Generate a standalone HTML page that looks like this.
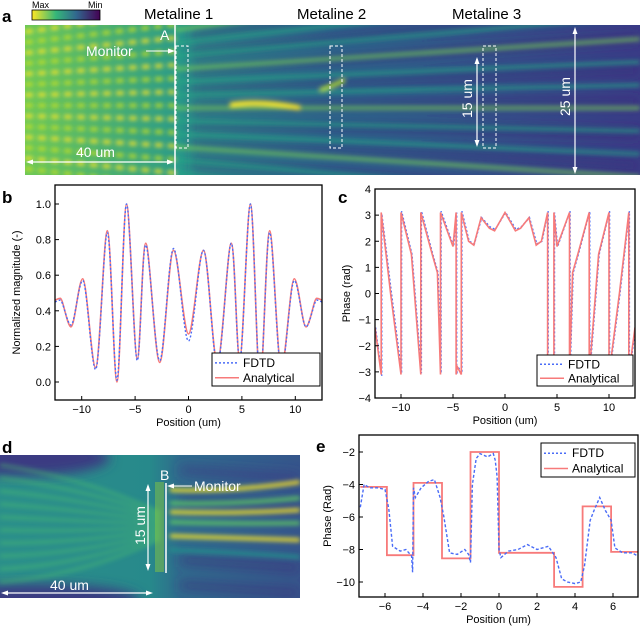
<!DOCTYPE html>
<html><head><meta charset="utf-8"><style>
body{margin:0;background:#fff;}
svg{display:block;font-family:"Liberation Sans",sans-serif;}
</style></head><body>
<svg id="fig" width="640" height="632" viewBox="0 0 640 632">
<defs>
<filter id="blur3"><feGaussianBlur stdDeviation="2.5"/></filter>
<filter id="blur6"><feGaussianBlur stdDeviation="6"/></filter>
<linearGradient id="cbar" x1="0" x2="1"><stop offset="0" stop-color="#fde725"/><stop offset="0.35" stop-color="#35b779"/><stop offset="0.65" stop-color="#31688e"/><stop offset="1" stop-color="#440154"/></linearGradient>
<linearGradient id="fadeA" x1="0" x2="1"><stop offset="0" stop-color="#6cc85a"/><stop offset="0.25" stop-color="#2a9a8a"/><stop offset="0.5" stop-color="#2b6a8c"/><stop offset="1" stop-color="#3a3c86"/></linearGradient>
<linearGradient id="fadeD" x1="0" x2="1"><stop offset="0" stop-color="#2b8f8a"/><stop offset="0.5" stop-color="#27898b"/><stop offset="0.6" stop-color="#2f6b8d"/><stop offset="1" stop-color="#35558b"/></linearGradient>
<clipPath id="clipA"><rect x="25" y="25" width="615" height="150"/></clipPath>
<clipPath id="clipD"><rect x="0" y="455" width="300" height="143"/></clipPath>
<clipPath id="clipB"><rect x="55" y="185" width="267" height="215"/></clipPath>
<clipPath id="clipC"><rect x="375" y="189" width="260" height="209"/></clipPath>
<clipPath id="clipE"><rect x="359" y="435" width="279" height="162"/></clipPath>
</defs>

<text x="2" y="22" font-size="17" font-weight="bold">a</text>
<rect x="32" y="10" width="68" height="10" fill="url(#cbar)" stroke="#000" stroke-width="0.8"/>
<text x="32" y="8" font-size="9">Max</text>
<text x="88" y="8" font-size="9">Min</text>
<text x="144" y="19" font-size="15">Metaline 1</text>
<text x="297" y="19" font-size="15">Metaline 2</text>
<text x="452" y="19" font-size="15">Metaline 3</text>
<g clip-path="url(#clipA)">
<rect x="25" y="25" width="615" height="150" fill="url(#fadeA)"/>
<g id="darkA" filter="url(#blur6)"></g>
<g id="streaksA" filter="url(#blur3)"></g>
</g>
<g fill="none" stroke="#fff">
<line x1="175" y1="25" x2="175" y2="175" stroke-width="1.5"/>
<rect x="176" y="46" width="12" height="102" stroke-dasharray="3,2" stroke-width="1"/>
<rect x="330" y="46" width="12" height="102" stroke-dasharray="3,2" stroke-width="1"/>
<rect x="483" y="46" width="13" height="102" stroke-dasharray="3,2" stroke-width="1"/>
<line x1="146" y1="51" x2="172" y2="51" stroke-width="1"/>
<line x1="28" y1="162" x2="172" y2="162" stroke-width="1.2"/>
<line x1="477" y1="59" x2="477" y2="145" stroke-width="1.2"/>
<line x1="575" y1="30" x2="575" y2="172" stroke-width="1.2"/>
</g>
<g fill="#fff">
<polygon points="175,51 168,48.5 168,53.5"/>
<polygon points="26,162 33,159.5 33,164.5"/><polygon points="174,162 167,159.5 167,164.5"/>
<polygon points="477,57 474.5,64 479.5,64"/><polygon points="477,147 474.5,140 479.5,140"/>
<polygon points="575,27 572.5,34 577.5,34"/><polygon points="575,174 572.5,167 577.5,167"/>
</g>
<text x="160" y="40" font-size="14" fill="#fff">A</text>
<text x="86" y="56" font-size="14" fill="#fff">Monitor</text>
<text x="76" y="157" font-size="14" fill="#fff">40 um</text>
<text x="0" y="0" font-size="14" fill="#fff" transform="translate(472,118) rotate(-90)">15 um</text>
<text x="0" y="0" font-size="14" fill="#fff" transform="translate(570,116) rotate(-90)">25 um</text>

<text x="2" y="203" font-size="17" font-weight="bold">b</text>
<g id="plotB"></g>

<text x="338" y="203" font-size="17" font-weight="bold">c</text>
<g id="plotC"></g>

<text x="2" y="453" font-size="17" font-weight="bold">d</text>
<g clip-path="url(#clipD)">
<rect x="0" y="455" width="300" height="143" fill="url(#fadeD)"/>
<g id="darkD" filter="url(#blur6)"></g>
<g id="streaksD" filter="url(#blur3)"></g>
</g>
<g>
<rect x="155" y="482" width="9" height="90" fill="#8fcf3a" opacity="0.45"/>
<line x1="166" y1="483" x2="166" y2="573" stroke="#fff" stroke-width="1.5"/>
<line x1="148" y1="487" x2="148" y2="568" stroke="#fff" stroke-width="1.2"/>
<polygon points="148,484 145.5,491 150.5,491" fill="#fff"/><polygon points="148,571 145.5,564 150.5,564" fill="#fff"/>
<line x1="170" y1="486" x2="192" y2="486" stroke="#fff" stroke-width="1"/>
<polygon points="167,486 174,483.5 174,488.5" fill="#fff"/>
<line x1="3" y1="593" x2="150" y2="593" stroke="#fff" stroke-width="1.2"/>
<polygon points="1,593 8,590.5 8,595.5" fill="#fff"/><polygon points="153,593 146,590.5 146,595.5" fill="#fff"/>
</g>
<text x="160" y="480" font-size="14" fill="#fff">B</text>
<text x="194" y="491" font-size="14" fill="#fff">Monitor</text>
<text x="50" y="590" font-size="14" fill="#fff">40 um</text>
<text x="0" y="0" font-size="14" fill="#fff" transform="translate(145,545) rotate(-90)">15 um</text>

<text x="316" y="452" font-size="17" font-weight="bold">e</text>
<g id="plotE"></g>
</svg>
<script>
const bX = [-12.5,-12,-11,-9.9,-8.7,-7.6,-6.7,-5.8,-4.8,-4,-2.7,-1.4,0,1.4,2.7,4,4.8,5.8,6.7,7.6,8.7,9.9,11,12,12.5];
const bAnalytical = [0.46,0.47,0.31,0.58,0.08,0.85,0.0,1.0,0.13,0.78,0.11,0.74,0.27,0.74,0.11,0.78,0.13,1.0,0.0,0.85,0.08,0.58,0.31,0.47,0.46];
const bFDTD = [0.45,0.46,0.32,0.57,0.07,0.84,0.01,1.0,0.12,0.77,0.12,0.75,0.23,0.74,0.10,0.78,0.12,1.0,0.01,0.84,0.07,0.57,0.31,0.46,0.45];
const bYTicks = [0,0.2,0.4,0.6,0.8,1.0];
const bYLabels = ["0.0","0.2","0.4","0.6","0.8","1.0"];
const bXTicks = [-10,-5,0,5,10];
const cX = [-12.5,-11.9,-11.9,-11,-10,-10,-9,-8.1,-8.1,-7,-6.5,-6.2,-6.2,-5,-4.7,-4.7,-4.6,-4.2,-4.2,-3.5,-3,-2.3,-1.5,-1,0,1,1.5,2.3,3,3.5,4.1,4.1,4.6,4.7,4.7,5,6.2,6.2,6.5,7,8.1,8.1,9,10,10,11,11.9,11.9,12.5];
const cPhase = [-1.3,-3.1,3.1,0,-3.1,3.1,1.5,-3.1,3.1,1.5,0.8,-3.1,3.1,1.8,3.1,-3.1,-2.8,-3.1,3.1,2.0,1.85,2.9,2.5,2.4,3.1,2.4,2.5,2.9,1.85,2.0,3.1,-3.1,-2.8,-3.1,3.1,1.8,3.1,-3.1,0.8,1.5,3.1,-3.1,1.5,3.1,-3.1,0,3.1,-3.1,-1.3];
const cFDTDShift = [0,-0.05,-0.05,0.1,0.05,0.05,0,0.05,0.05,0,0,0.05,0.05,0,0,0,0,0.05,0.05,0,0.05,0,0.05,0.05,0,0.05,0.05,0,0.05,0,0.05,0.05,0,0,0,0,0.05,0.05,0,0,0.05,0.05,0,0.05,0.05,0,0.05,0.05,0];
const cYTicks = [-4,-3,-2,-1,0,1,2,3,4];
const cXTicks = [-10,-5,0,5,10];
const eStepX = [-7.3,-5.9,-5.9,-4.5,-4.5,-3,-3,-1.5,-1.5,0,0,2.9,2.9,4.4,4.4,5.9,5.9,7.3];
const eStepY = [-4.15,-4.15,-8.35,-8.35,-3.9,-3.9,-8.55,-8.55,-2.0,-2.0,-8.2,-8.2,-10.3,-10.3,-5.35,-5.35,-8.15,-8.15];
const eFX = [-7.3,-7.1,-6.8,-6.4,-6.0,-5.8,-5.6,-5.2,-4.9,-4.6,-4.55,-4.5,-4.4,-4.1,-3.7,-3.4,-3.1,-2.9,-2.6,-2.2,-1.8,-1.6,-1.5,-1.4,-1.2,-1.0,-0.6,-0.3,-0.2,-0.1,0,0.1,0.5,1.0,1.5,2.0,2.6,3.0,3.3,3.6,4.0,4.3,4.5,4.8,5.0,5.3,5.6,5.9,6.1,6.5,7.0,7.3];
const eFY = [-5.4,-4.0,-4.2,-4.2,-4.3,-5.5,-7.8,-8.1,-8.0,-8.4,-9.4,-4.2,-4.8,-4.2,-3.8,-3.7,-4.8,-6.0,-8.2,-8.3,-8.0,-8.3,-8.8,-4.0,-2.4,-2.1,-2.3,-2.1,-2.5,-3.5,-8.0,-8.5,-8.1,-8.0,-7.7,-8.0,-7.8,-8.5,-9.8,-10.0,-10.1,-10.0,-9.0,-6.2,-5.6,-4.8,-5.6,-6.2,-7.9,-8.2,-8.2,-8.4];
const eYTicks = [-10,-8,-6,-4,-2];
const eXTicks = [-6,-4,-2,0,2,4,6];

const NS = "http://www.w3.org/2000/svg";
function mk(tag, attrs, parent){const e=document.createElementNS(NS,tag);for(const k in attrs)e.setAttribute(k,attrs[k]);parent.appendChild(e);return e;}
function lin(d0,d1,r0,r1){return v=>r0+(v-d0)*(r1-r0)/(d1-d0);}
function smoothPath(xs,ys,sx,sy){
  const p=xs.map((x,i)=>[sx(x),sy(ys[i])]);let d="M"+p[0][0]+","+p[0][1];
  for(let i=0;i<p.length-1;i++){const p0=p[Math.max(0,i-1)],p1=p[i],p2=p[i+1],p3=p[Math.min(p.length-1,i+2)];
    const c1x=p1[0]+(p2[0]-p0[0])/6,c2x=p2[0]-(p3[0]-p1[0])/6;
    d+=" C"+c1x+","+p1[1]+" "+c2x+","+p2[1]+" "+p2[0]+","+p2[1];}
  return d;}
function linePath(xs,ys,sx,sy){return xs.map((x,i)=>(i?"L":"M")+sx(x).toFixed(1)+","+sy(ys[i]).toFixed(1)).join(" ");}

function axes(g,L,T,R,B,sx,sy,xt,xl,yt,yl,xTitle,yTitle,yTitleX){
  mk("rect",{x:L,y:T,width:R-L,height:B-T,fill:"none",stroke:"#000","stroke-width":1.3},g);
  xt.forEach((v,i)=>{const x=sx(v);
    const t=mk("line",{x1:x,y1:B,x2:x,y2:B-4,stroke:"#000"},g);
    
    
    const tx=mk("text",{x:x,y:B+13,"font-size":11,"text-anchor":"middle"},g);tx.textContent=xl[i];
    
    });
  yt.forEach((v,i)=>{const y=sy(v);
    const t=mk("line",{x1:L,y1:y,x2:L+4,y2:y,stroke:"#000"},g);
    
    
    const tx=mk("text",{x:L-4,y:y+4,"font-size":11,"text-anchor":"end"},g);tx.textContent=yl[i];
    
    });
  const xtT=mk("text",{x:(L+R)/2,y:B+26,"font-size":11,"text-anchor":"middle"},g);xtT.textContent=xTitle;
  
  
  const ytT=mk("text",{x:0,y:0,"font-size":11,"text-anchor":"middle",transform:`translate(${yTitleX},${(T+B)/2}) rotate(-90)`},g);ytT.textContent=yTitle;
  
  
}
function legend(g,x,y,w,h){
  const lg=mk("g",{},g);
  
  
  mk("rect",{x:x,y:y,width:w,height:h,fill:"#fff",stroke:"#000","stroke-width":1},lg);
  mk("line",{x1:x+3,y1:y+h*0.3,x2:x+27,y2:y+h*0.3,stroke:"#4a6cf7","stroke-width":1.5,"stroke-dasharray":"2,2"},lg);
  mk("line",{x1:x+3,y1:y+h*0.75,x2:x+27,y2:y+h*0.75,stroke:"#f77a7a","stroke-width":1.6},lg);
  const t1=mk("text",{x:x+31,y:y+h*0.3+4,"font-size":12},lg);t1.textContent="FDTD";
  
  
  const t2=mk("text",{x:x+31,y:y+h*0.75+4,"font-size":12},lg);t2.textContent="Analytical";
  
  
}

(function(){const g=document.getElementById("plotB");const L=55,R=322,T=185,B=400;
 const sx=lin(-12.5,12.5,L,R),sy=lin(0,1,382,204);
 const cg=mk("g",{"clip-path":"url(#clipB)"},g);
 const a=mk("path",{d:smoothPath(bX,bAnalytical,sx,sy),fill:"none",stroke:"#f77a7a","stroke-width":1.6},cg);
 
 
 const f=mk("path",{d:smoothPath(bX,bFDTD,sx,sy),fill:"none",stroke:"#4a6cf7","stroke-width":1.4,"stroke-dasharray":"2,2"},cg);
 
 
 axes(g,L,T,R,B,sx,sy,bXTicks,["−10","−5","0","5","10"],bYTicks,bYLabels,"Position (um)","Normalized magnitude (-)",20);
 legend(g,212,353,108,33);})();

(function(){const g=document.getElementById("plotC");const L=375,R=635,T=189,B=398;
 const sx=lin(-12.5,12.5,L,R),sy=lin(-4,4,B,T);
 const cg=mk("g",{"clip-path":"url(#clipC)"},g);
 const f=mk("path",{d:linePath(cX,cPhase.map((v,i)=>v+cFDTDShift[i]),v=>sx(v)+0.6,sy),fill:"none",stroke:"#4a6cf7","stroke-width":1.4,"stroke-dasharray":"2,2"},cg);
 
 
 const a=mk("path",{d:linePath(cX,cPhase,sx,sy),fill:"none",stroke:"#f77a7a","stroke-width":1.6},cg);
 
 
 axes(g,L,T,R,B,sx,sy,cXTicks,["−10","−5","0","5","10"],cYTicks,cYTicks.map(v=>v<0?"−"+(-v):""+v),"Position (um)","Phase (rad)",350);
 legend(g,537,355,96,31);})();

(function(){const g=document.getElementById("plotE");const L=359,R=638,T=435,B=597;
 const sx=lin(0,6,499,613),sy=lin(-2,-10,452,582);
 const cg=mk("g",{"clip-path":"url(#clipE)"},g);
 const a=mk("path",{d:linePath(eStepX,eStepY,sx,sy),fill:"none",stroke:"#f77a7a","stroke-width":1.8},cg);
 
 
 const f=mk("path",{d:linePath(eFX,eFY,sx,sy),fill:"none",stroke:"#4a6cf7","stroke-width":1.4,"stroke-dasharray":"3,2"},cg);
 
 
 axes(g,L,T,R,B,sx,sy,eXTicks,eXTicks.map(v=>v<0?"−"+(-v):""+v),eYTicks,eYTicks.map(v=>"−"+(-v)),"Position (um)","Phase (Rad)",331);
 legend(g,541,443,94,34);})();

(function(){const dA=document.getElementById("darkA");
 // dark navy bands on the right part of panel a
 for(let i=0;i<9;i++){const y=30+i*18;
   mk("path",{d:`M190,${y+6} Q400,${y+(i-4)*6} 640,${y+(i-4)*14}`,stroke:"#3b2a78","stroke-width":7,fill:"none",opacity:0.75},dA);}
 const gA=document.getElementById("streaksA");
 for(let r=0;r<14;r++){const y=32+r*10.5;
   mk("path",{d:`M25,${y} Q100,${y+(r-7)*1.5} 175,${y+(r-7)*3}`,stroke:r%2?"#c8e020":"#fde725","stroke-width":4,fill:"none","stroke-dasharray":"8,5",opacity:0.9},gA);}
 for(let i=0;i<12;i++){const y=30+i*13;
   mk("path",{d:`M175,${y} Q350,${y+(i-6)*4} 640,${y+(i-6)*10}`,stroke:i%3?"#22a884":"#7ad151","stroke-width":3.5,fill:"none",opacity:0.75},gA);}
 mk("path",{d:"M230,105 Q260,100 300,108",stroke:"#fde725","stroke-width":5,fill:"none"},gA);
 mk("path",{d:"M320,90 Q335,85 345,80",stroke:"#b5de2b","stroke-width":4,fill:"none"},gA);
 const dD=document.getElementById("darkD");
 mk("ellipse",{cx:20,cy:458,rx:90,ry:18,fill:"#3b3a82"},dD);
 mk("ellipse",{cx:30,cy:600,rx:110,ry:16,fill:"#3b3a82"},dD);
 [[470,"#3b3a82"],[500,"#34427f"],[560,"#3b2f7a"],[585,"#3b2f7a"]].forEach(s=>{
   mk("path",{d:`M180,${s[0]} Q240,${s[0]+4} 300,${s[0]+8}`,stroke:s[1],"stroke-width":7,fill:"none",opacity:0.8},dD);});
 const gD=document.getElementById("streaksD");
 for(let i=0;i<10;i++){const y=465+i*13;
   mk("path",{d:`M0,${y} Q80,${y+(6-i)*2} 160,${527+(i-5)*3}`,stroke:"#4cc26c","stroke-width":3,fill:"none",opacity:0.55},gD);}
 [[490,"#fde725"],[503,"#5ec962"],[512,"#fde725"],[522,"#5ec962"],[536,"#fde725"],[550,"#21918c"]].forEach((s,i)=>{
   mk("path",{d:`M170,${s[0]} Q230,${s[0]+2} 300,${s[0]-8+i*3}`,stroke:s[1],"stroke-width":4,fill:"none",opacity:0.9},gD);});
})();
</script>
</body></html>
